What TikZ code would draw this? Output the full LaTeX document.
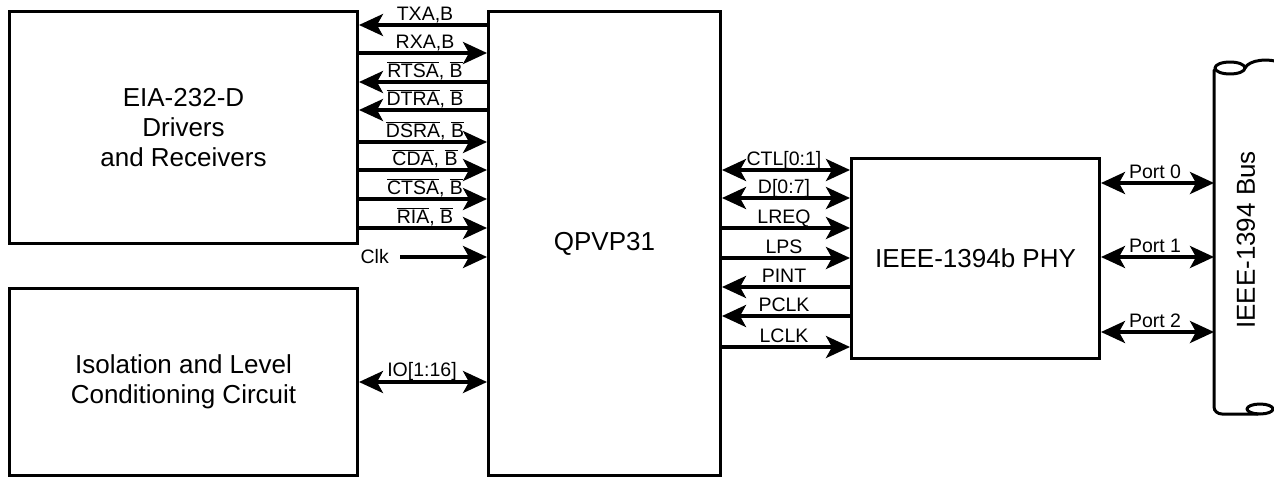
\documentclass[tikz,border=0pt]{standalone}
\usepackage{fontspec}
\setmainfont{Liberation Sans}
\usetikzlibrary{arrows.meta}
\newcommand{\ovl}[1]{$\overline{\hbox{#1}}$}
\begin{document}
\begin{tikzpicture}[x=1pt,y=-1pt,
  box/.style={draw,line width=3pt,anchor=north west,inner sep=0pt,
    font=\fontsize{26}{30}\selectfont,align=center},
  tip/.tip={Stealth[length=24pt,width=22pt,inset=6pt]},
  sig/.style={line width=3.5pt,-tip},
  bsig/.style={line width=3.5pt,tip-tip},
  lab/.style={font=\fontsize{19.5}{20}\selectfont,anchor=base,inner sep=0pt},
  busline/.style={line width=3pt,line join=round,line cap=round}
]
\useasboundingbox (0,0) rectangle (1274,479);

% boxes
\node[box,minimum width=348pt,minimum height=232pt] (eia) at (8,10) {EIA-232-D\\Drivers\\and Receivers};
\node[box,minimum width=348pt,minimum height=187pt] (iso) at (8,287) {Isolation and Level\\Conditioning Circuit};
\node[box,minimum width=232pt,minimum height=464pt] (qp) at (487,10) {QPVP31};
\node[box,minimum width=248pt,minimum height=200pt] (phy) at (850,157) {IEEE-1394b PHY};

% bus
\coordinate (busL) at (1214,240);
\draw[busline] (1214,70) -- (1214,407) to[out=-90,in=180] (1222,414) -- (1258,414);
\draw[busline] (1230,68) ellipse [x radius=15, y radius=6];
\draw[busline] (1245,68) .. controls (1249,60) and (1268,57) .. (1285,64);
\draw[busline] (1260,409) ellipse [x radius=13, y radius=5];
\node[font=\fontsize{26}{30}\selectfont,rotate=90,inner sep=0pt] (buslab) at (1246,240) {IEEE-1394 Bus};

% left signals
\draw[sig] (qp.west |- 0,25) -- (eia.east |- 0,25);
\node[lab] (l1) at (425,20) {TXA,B};
\draw[sig] (eia.east |- 0,53) -- (qp.west |- 0,53);
\node[lab] (l2) at (425,48) {RXA,B};
\draw[sig] (qp.west |- 0,82) -- (eia.east |- 0,82);
\node[lab] (l3) at (425,77) {\ovl{RTSA}, \ovl{B}};
\draw[sig] (qp.west |- 0,110) -- (eia.east |- 0,110);
\node[lab] (l4) at (425,105) {\ovl{DTRA}, \ovl{B}};
\draw[sig] (eia.east |- 0,142) -- (qp.west |- 0,142);
\node[lab] (l5) at (425,137) {\ovl{DSRA}, \ovl{B}};
\draw[sig] (eia.east |- 0,170) -- (qp.west |- 0,170);
\node[lab] (l6) at (425,165) {\ovl{CDA}, \ovl{B}};
\draw[sig] (eia.east |- 0,199) -- (qp.west |- 0,199);
\node[lab] (l7) at (425,194) {\ovl{CTSA}, \ovl{B}};
\draw[sig] (eia.east |- 0,228) -- (qp.west |- 0,228);
\node[lab] (l8) at (425,223) {\ovl{RIA}, \ovl{B}};
\coordinate (clk) at (400,257);
\draw[sig] (clk) -- (qp.west |- clk);
\node[font=\fontsize{19.5}{20}\selectfont,anchor=east,inner sep=0pt] (clklab) at (389,257) {Clk};

% IO
\draw[bsig] (iso.east |- 0,382) -- (qp.west |- 0,382);
\node[lab] (lio) at (422,376) {IO[1:16]};

% right signals
\draw[bsig] (qp.east |- 0,170) -- (phy.west |- 0,170);
\node[lab] (r1) at (784,165) {CTL[0:1]};
\draw[bsig] (qp.east |- 0,198) -- (phy.west |- 0,198);
\node[lab] (r2) at (784,193) {D[0:7]};
\draw[sig] (qp.east |- 0,228) -- (phy.west |- 0,228);
\node[lab] (r3) at (784,223) {LREQ};
\draw[sig] (qp.east |- 0,258) -- (phy.west |- 0,258);
\node[lab] (r4) at (784,253) {LPS};
\draw[sig] (phy.west |- 0,287) -- (qp.east |- 0,287);
\node[lab] (r5) at (784,282) {PINT};
\draw[sig] (phy.west |- 0,316) -- (qp.east |- 0,316);
\node[lab] (r6) at (784,311) {PCLK};
\draw[sig] (qp.east |- 0,347) -- (phy.west |- 0,347);
\node[lab] (r7) at (784,342) {LCLK};

% ports
\draw[bsig] (phy.east |- 0,183) -- (busL |- 0,183);
\node[lab] (p0) at (1155,178) {Port 0};
\draw[bsig] (phy.east |- 0,257) -- (busL |- 0,257);
\node[lab] (p1) at (1155,252) {Port 1};
\draw[bsig] (phy.east |- 0,332) -- (busL |- 0,332);
\node[lab] (p2) at (1155,327) {Port 2};
\end{tikzpicture}
\end{document}
